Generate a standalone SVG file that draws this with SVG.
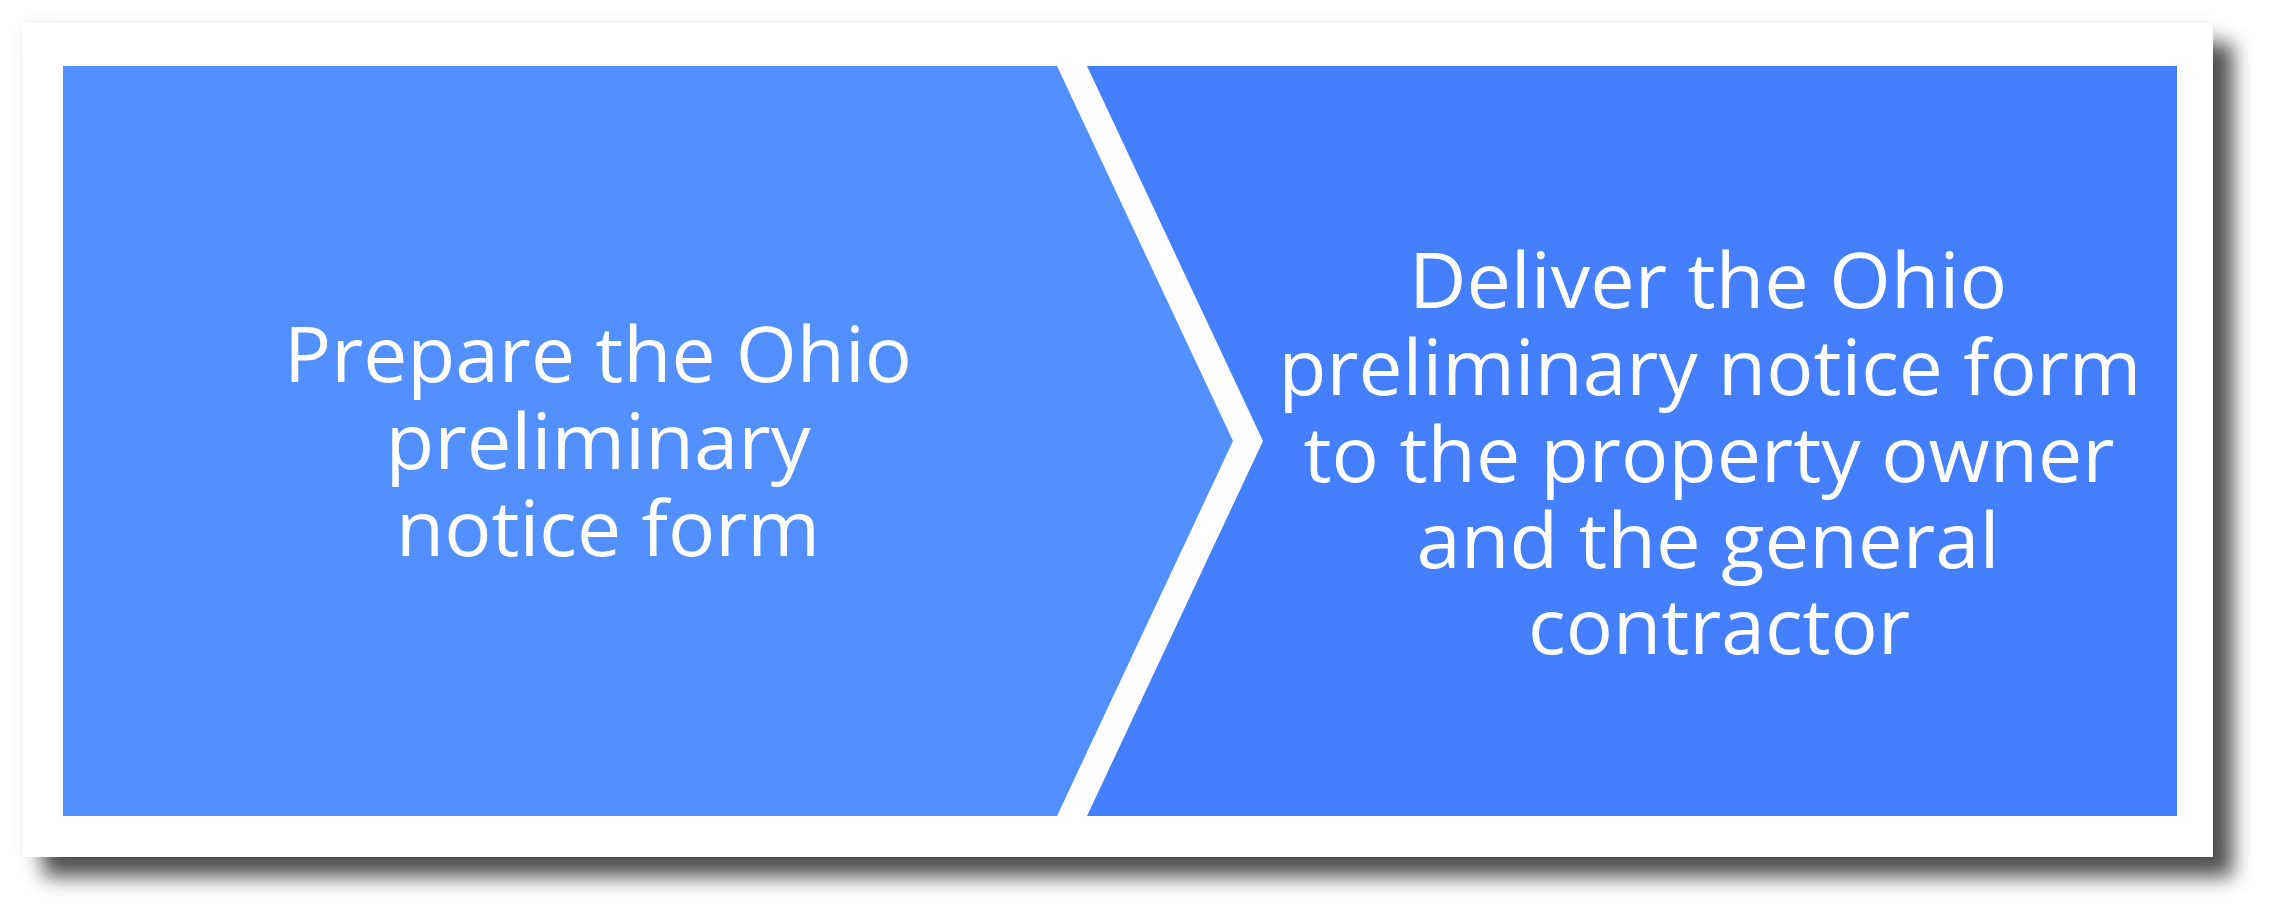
<svg xmlns="http://www.w3.org/2000/svg" width="2275" height="918" viewBox="0 0 2275 918">
  <style>
    .lbl { font-family: "Open Sans", "Noto Sans", "Liberation Sans", sans-serif; font-size: 77px; fill: #ffffff; text-anchor: middle; }
    .edge { stroke: #8fb3ff; stroke-width: 1.5; }
  </style>
  <defs>
    <filter id="shadow" x="-5%" y="-10%" width="112%" height="125%">
      <feGaussianBlur in="SourceAlpha" stdDeviation="10" result="b1"/>
      <feOffset in="b1" dx="20" dy="20" result="o1"/>
      <feComponentTransfer in="o1" result="s1"><feFuncA type="linear" slope="0.68"/></feComponentTransfer>
      <feGaussianBlur in="SourceAlpha" stdDeviation="8" result="b2"/>
      <feComponentTransfer in="b2" result="s2"><feFuncA type="linear" slope="0.08"/></feComponentTransfer>
      <feMerge><feMergeNode in="s2"/><feMergeNode in="s1"/><feMergeNode in="SourceGraphic"/></feMerge>
    </filter>
  </defs>
  <rect width="2275" height="918" fill="#ffffff"/>
  <g id="card">
    <rect x="23" y="23" width="2190" height="834" fill="#ffffff" filter="url(#shadow)"/>
  </g>
  <g id="connectors"></g>
  <g id="step1">
    <polygon points="63,66 1057,66 1233,441 1057,816 63,816" fill="#528FFF"/>
    <text class="lbl">
      <tspan x="608" y="382" textLength="628" lengthAdjust="spacingAndGlyphs">Prepare the Ohio</tspan>
      <tspan x="608" y="469" textLength="425" lengthAdjust="spacingAndGlyphs">preliminary</tspan>
      <tspan x="608" y="556" textLength="424" lengthAdjust="spacingAndGlyphs">notice form</tspan>
    </text>
  </g>
  <g id="step2">
    <polygon points="1087,66 2177,66 2177,816 1087,816 1263,441" fill="#437FFF"/>
    <text class="lbl">
      <tspan x="1718" y="308" textLength="598" lengthAdjust="spacingAndGlyphs">Deliver the Ohio</tspan>
      <tspan x="1720" y="395" textLength="863" lengthAdjust="spacingAndGlyphs">preliminary notice form</tspan>
      <tspan x="1719" y="482" textLength="811" lengthAdjust="spacingAndGlyphs">to the property owner</tspan>
      <tspan x="1718" y="568" textLength="583" lengthAdjust="spacingAndGlyphs">and the general</tspan>
      <tspan x="1719" y="654" textLength="382" lengthAdjust="spacingAndGlyphs">contractor</tspan>
    </text>
  </g>
</svg>
